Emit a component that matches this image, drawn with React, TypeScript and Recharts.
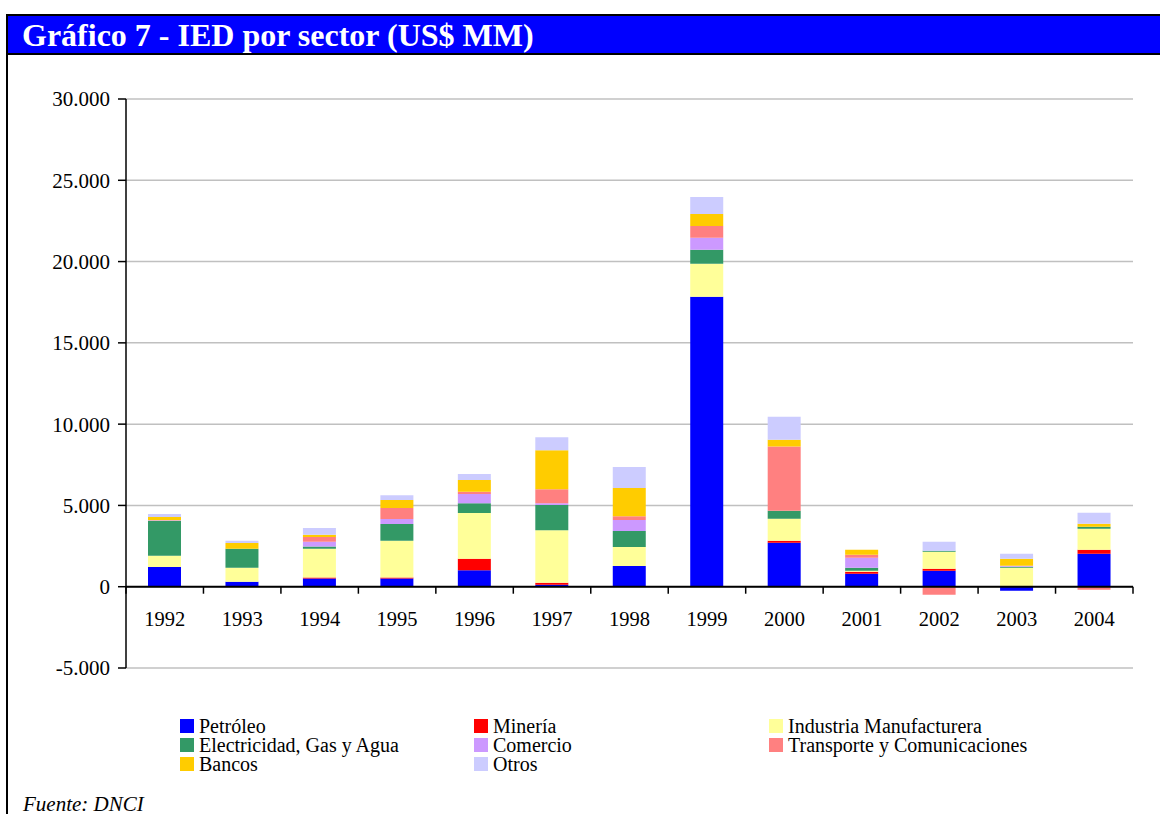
import React from 'react';
import {
  Bar,
  BarChart,
  CartesianGrid,
  ReferenceLine,
  XAxis,
  YAxis,
} from 'recharts';

// IED por sector, US$ MM
const YEARS = ['1992', '1993', '1994', '1995', '1996', '1997', '1998', '1999', '2000', '2001', '2002', '2003', '2004'];
const PETROLEO = [1220, 310, 510, 510, 1020, 120, 1270, 17830, 2700, 800, 980, -250, 2030];
const MINERIA = [0, 0, 60, 60, 700, 130, 0, 0, 130, 120, 120, 0, 240];
const INDUSTRIA = [680, 850, 1760, 2250, 2810, 3230, 1170, 2030, 1350, 60, 1050, 1170, 1300];
const ELECTRICIDAD = [2140, 1170, 140, 1040, 610, 1540, 980, 860, 490, 190, 60, 60, 120];
const COMERCIO = [50, 0, 290, 300, 560, 120, 680, 740, 0, 610, 0, 60, 0];
const TRANSPORTE = [0, 0, 300, 680, 140, 860, 240, 730, 3960, 190, -490, 0, -180];
const BANCOS = [200, 360, 140, 490, 720, 2400, 1730, 740, 410, 300, 0, 430, 180];
const OTROS = [180, 130, 410, 300, 370, 800, 1290, 1040, 1410, 0, 560, 310, 680];
const Y_TICKS = [-5000, 0, 5000, 10000, 15000, 20000, 25000, 30000];

const SERIES = [
  { key: 'petroleo', name: 'Petróleo', color: '#0000FF', values: PETROLEO },
  { key: 'mineria', name: 'Minería', color: '#FF0000', values: MINERIA },
  { key: 'industria', name: 'Industria Manufacturera', color: '#FFFF99', values: INDUSTRIA },
  { key: 'electricidad', name: 'Electricidad, Gas y Agua', color: '#339966', values: ELECTRICIDAD },
  { key: 'comercio', name: 'Comercio', color: '#CC99FF', values: COMERCIO },
  { key: 'transporte', name: 'Transporte y Comunicaciones', color: '#FF8080', values: TRANSPORTE },
  { key: 'bancos', name: 'Bancos', color: '#FFCC00', values: BANCOS },
  { key: 'otros', name: 'Otros', color: '#CCCCFF', values: OTROS },
];

// legend reads row by row: Petróleo, Minería, Industria / Electricidad, Comercio, Transporte / Bancos, Otros
const LEGEND_ORDER = ['petroleo', 'mineria', 'industria', 'electricidad', 'comercio', 'transporte', 'bancos', 'otros'];

const data = YEARS.map((year, i) => {
  const row: { [key: string]: any } = { year };
  SERIES.forEach(s => {
    row[s.key] = s.values[i];
  });
  return row;
});

const FONT = '"Liberation Serif", "Times New Roman", serif';
const W = 1160;
const H = 814;
const X_AXIS_H = 30;
const M = { top: 99, right: 27, bottom: 146 - X_AXIS_H, left: 0 };
const Y_AXIS_W = 126;
const PLOT_W = W - M.left - M.right - Y_AXIS_W;
const PLOT_H = H - M.top - M.bottom - X_AXIS_H;
const STEP = PLOT_W / YEARS.length;
// the category axis sits on the zero line, not at the bottom of the plot
const ZERO_SHIFT = (PLOT_H * 5000) / 35000;

const fmt = (v: number) => v.toLocaleString('de-DE');

const YearTick = (props: any) => {
  const { x, y, payload } = props;
  const y0 = y - ZERO_SHIFT;
  const last = payload.value === YEARS[YEARS.length - 1];
  return (
    <g>
      <line x1={x - STEP / 2} x2={x - STEP / 2} y1={y0} y2={y0 + 7} stroke="#000" strokeWidth={1.5} />
      {last && <line x1={x + STEP / 2} x2={x + STEP / 2} y1={y0} y2={y0 + 7} stroke="#000" strokeWidth={1.5} />}
      <text x={x} y={y0 + 39} textAnchor="middle" fontFamily={FONT} fontSize={20.5} fill="#000">
        {payload.value}
      </text>
    </g>
  );
};

export default function App() {
  return (
    <div style={{ position: 'absolute', left: 0, top: 0, width: W, height: H, overflow: 'hidden', background: '#fff', fontFamily: FONT }}>
      {/* frame and title bar */}
      <div style={{ position: 'absolute', left: 6, top: 14, width: 1300, height: 1000, border: '2px solid #000', boxSizing: 'border-box' }} />
      <div
        style={{
          position: 'absolute',
          left: 6,
          top: 14,
          width: 1300,
          height: 41,
          background: '#0000FF',
          border: '2px solid #000',
          boxSizing: 'border-box',
        }}
      />
      <div style={{ position: 'absolute', left: 22, top: 17, color: '#fff', fontWeight: 'bold', fontSize: 32, lineHeight: '36px', whiteSpace: 'nowrap' }}>
        Gráfico 7 - IED por sector (US$ MM)
      </div>

      <div style={{ position: 'absolute', left: 0, top: 0 }}>
        <BarChart width={W} height={H} data={data} margin={M} stackOffset="sign" barSize={33}>
          <CartesianGrid horizontal vertical={false} stroke="#c0c0c0" strokeWidth={1.5} />
          <XAxis
            dataKey="year"
            axisLine={false}
            tickLine={false}
            tickSize={0}
            tickMargin={0}
            height={X_AXIS_H}
            interval={0}
            tick={(p: any) => <YearTick {...p} />}
          />
          <YAxis
            width={Y_AXIS_W}
            domain={[-5000, 30000]}
            ticks={Y_TICKS}
            tickFormatter={fmt}
            axisLine={{ stroke: '#000', strokeWidth: 1.5 }}
            tickLine={{ stroke: '#000', strokeWidth: 1.5 }}
            tickSize={8}
            tickMargin={8}
            tick={{ fontFamily: FONT, fontSize: 21, fill: '#000' }}
          />
          {SERIES.map(s => (
            <Bar key={s.key} dataKey={s.key} name={s.name} stackId="ied" fill={s.color} isAnimationActive={false} />
          ))}
          <ReferenceLine y={0} stroke="#000" strokeWidth={2} />
        </BarChart>
      </div>

      {/* legend, three columns */}
      {LEGEND_ORDER.map((key, i) => {
        const s = SERIES.find(x => x.key === key)!;
        const col = i % 3;
        const row = Math.floor(i / 3);
        const left = [180, 474, 769][col];
        return (
          <div
            key={key}
            style={{ position: 'absolute', left, top: 716.5 + row * 19, height: 19, display: 'flex', alignItems: 'center', whiteSpace: 'nowrap' }}
          >
            <span style={{ display: 'inline-block', width: 14, height: 14, background: s.color, marginRight: 5 }} />
            <span style={{ fontSize: 20, lineHeight: '19px', color: '#000' }}>{s.name}</span>
          </div>
        );
      })}

      <div style={{ position: 'absolute', left: 23, top: 793, fontSize: 21, lineHeight: '22px', fontStyle: 'italic', whiteSpace: 'nowrap' }}>Fuente: DNCI</div>
    </div>
  );
}
